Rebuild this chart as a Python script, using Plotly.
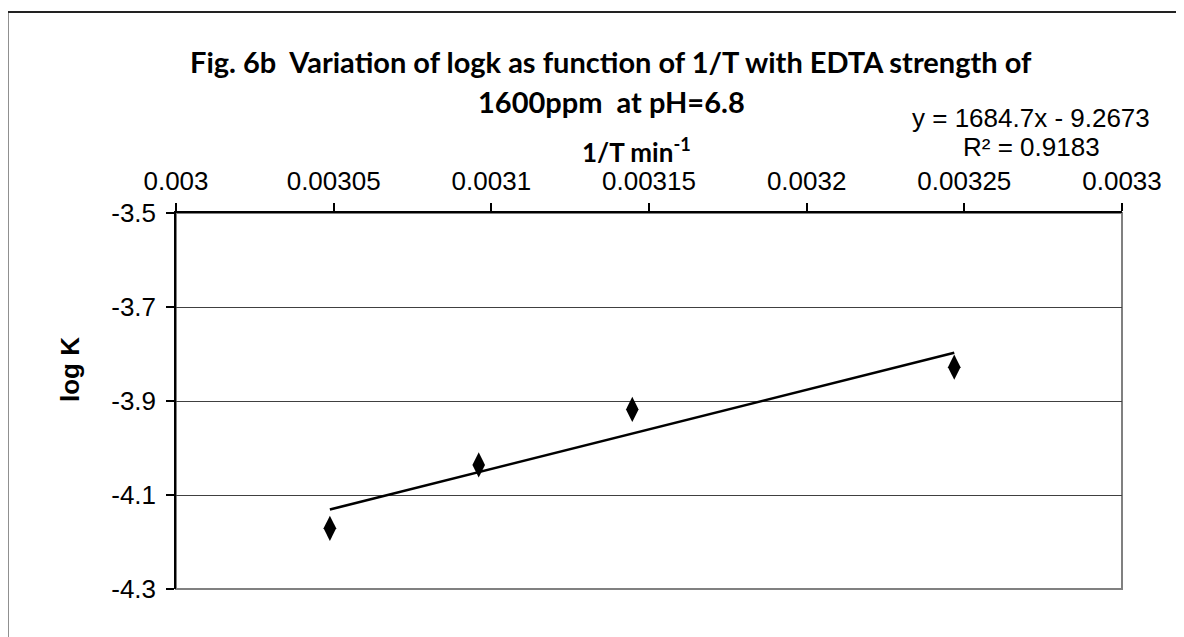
import plotly.graph_objects as go

# ---- data ----
inv_T = [0.0030488, 0.0030960, 0.0031447, 0.0032468]
log_k = [-4.171, -4.036, -3.918, -3.828]

x_tickvals = [0.003, 0.00305, 0.0031, 0.00315, 0.0032, 0.00325, 0.0033]
x_ticktext = ["0.003", "0.00305", "0.0031", "0.00315", "0.0032", "0.00325", "0.0033"]
y_tickvals = [-3.5, -3.7, -3.9, -4.1, -4.3]
y_ticktext = ["-3.5", "-3.7", "-3.9", "-4.1", "-4.3"]

trend_slope = 1684.7
trend_intercept = -9.2673
r_squared = "0.9183"

title_line1 = "Fig. 6b  Variation of logk as function of 1/T with EDTA strength of"
title_line2 = "1600ppm  at pH=6.8"
x_title = "1/T min<sup>-1</sup>"
y_title = "log K"

# ---- figure (page body has an 8px margin, so work in shifted coordinates) ----
OFF = 8
W, H = 1184 - OFF, 637 - OFF
L, R, T, B = 176 - OFF, 62, 213 - OFF, 48
pw, ph = W - L - R, H - T - B


def px(xp):
    return (xp - OFF - L) / pw


def py(yp):
    return (H - B - (yp - OFF)) / ph


trend_x = [min(inv_T), max(inv_T)]
trend_y = [trend_slope * v + trend_intercept for v in trend_x]

fig = go.Figure()
fig.add_trace(go.Scatter(
    x=trend_x, y=trend_y, mode="lines",
    line=dict(color="black", width=2.5), showlegend=False, hoverinfo="skip"))
fig.add_trace(go.Scatter(
    x=inv_T, y=log_k, mode="markers",
    marker=dict(symbol="diamond-tall", size=18, color="black"),
    showlegend=False))

tick_font = dict(family="Liberation Sans, Arial, sans-serif", size=26, color="black")
calibri_like = "Lato, Carlito, Calibri, sans-serif"

fig.update_layout(
    width=W, height=H,
    margin=dict(l=L, r=R, t=T, b=B, autoexpand=False),
    paper_bgcolor="white", plot_bgcolor="white",
    showlegend=False,
    xaxis=dict(
        side="top", range=[0.003, 0.0033], tickvals=x_tickvals, ticktext=x_ticktext,
        showgrid=False, zeroline=False, showline=True, linecolor="black", linewidth=1.5,
        ticks="outside", ticklen=8, tickcolor="black", tickwidth=1.5,
        tickfont=tick_font, ticklabelstandoff=3),
    yaxis=dict(
        range=[-4.3, -3.5], tickvals=y_tickvals, ticktext=y_ticktext,
        showgrid=True, gridcolor="#404040", gridwidth=1.2, zeroline=False,
        showline=True, linecolor="black", linewidth=1.5,
        ticks="outside", ticklen=8, tickcolor="black", tickwidth=1.5,
        tickfont=tick_font, ticklabelstandoff=5),
    shapes=[
        dict(type="rect", xref="paper", yref="paper", x0=0, x1=1, y0=0, y1=1,
             line=dict(color="#808080", width=2), layer="below"),
        dict(type="rect", xref="paper", yref="paper",
             x0=px(7.5), x1=px(1200), y0=py(660), y1=py(12),
             line=dict(color="#222222", width=2), layer="below"),
    ],
    annotations=[
        dict(text="<b>" + title_line1 + "</b>", xref="paper", yref="paper",
             x=px(611), y=py(61), xanchor="center", yanchor="middle", showarrow=False,
             font=dict(family=calibri_like, size=29, color="black")),
        dict(text="<b>" + title_line2 + "</b>", xref="paper", yref="paper",
             x=px(611), y=py(102), xanchor="center", yanchor="middle", showarrow=False,
             font=dict(family=calibri_like, size=29, color="black")),
        dict(text="<b>" + x_title + "</b>", xref="paper", yref="paper",
             x=px(636), y=py(151), xanchor="center", yanchor="middle", showarrow=False,
             font=dict(family=calibri_like, size=26, color="black")),
        dict(text="<b>" + y_title + "</b>", xref="paper", yref="paper",
             x=px(70), y=py(370), xanchor="center", yanchor="middle", showarrow=False,
             textangle=-90,
             font=dict(family="Liberation Sans, Arial, sans-serif", size=26, color="black")),
        dict(text="y = %sx - %s" % (trend_slope, abs(trend_intercept)), xref="paper", yref="paper",
             x=px(1031), y=py(118), xanchor="center", yanchor="middle", showarrow=False,
             font=tick_font),
        dict(text="R² = " + r_squared, xref="paper", yref="paper",
             x=px(1031), y=py(147), xanchor="center", yanchor="middle", showarrow=False,
             font=tick_font),
    ],
)

fig.write_html("out.html")
